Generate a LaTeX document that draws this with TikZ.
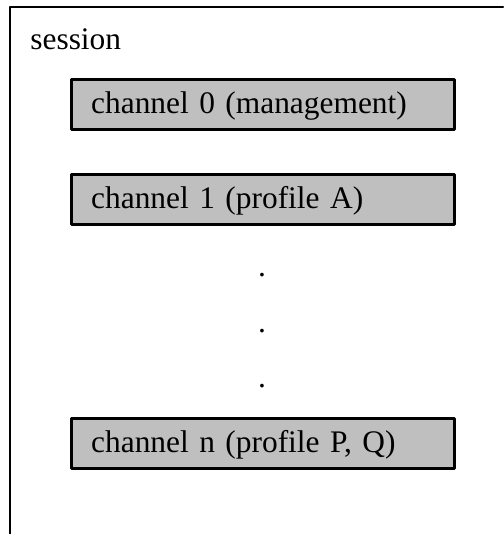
\documentclass[tikz,border=0pt]{standalone}
\usepackage{fontspec}
\setmainfont{Liberation Serif}
\usepackage{tikz}
\usetikzlibrary{positioning}

\begin{document}
\begin{tikzpicture}[line cap=round,line join=round,x=0.5pt,y=0.5pt,
		chanbox/.style={draw=black,line width=1.5pt,fill=black!25,
			text width=171.8pt,inner xsep=9.85pt,minimum height=23pt,
			align=left,text height=0.75em,text depth=0.2em},
		gapdot/.style={inner sep=0pt,anchor=base}]
		\useasboundingbox (0,0) rectangle (503,534);
		\fontsize{15.7}{18}\selectfont
		\draw[color=black,line width=1pt] (10,0) -- (10,527) -- (503,527);
		\node[inner sep=0pt,anchor=base west] (session) at (30,484) {session};
		\node[chanbox] (chan0) at (263,429.5) {channel 0 (management)};
		\node[chanbox] (chan1) at (263,334.5) {channel 1 (profile A)};
		\node[gapdot] (dot1) at (262,257.4) {.};
		\node[gapdot] (dot2) at (262,201.4) {.};
		\node[gapdot] (dot3) at (262,146.4) {.};
		\node[chanbox] (chann) at (263,90.5) {channel n (profile P, Q)};
	\end{tikzpicture}
\end{document}
